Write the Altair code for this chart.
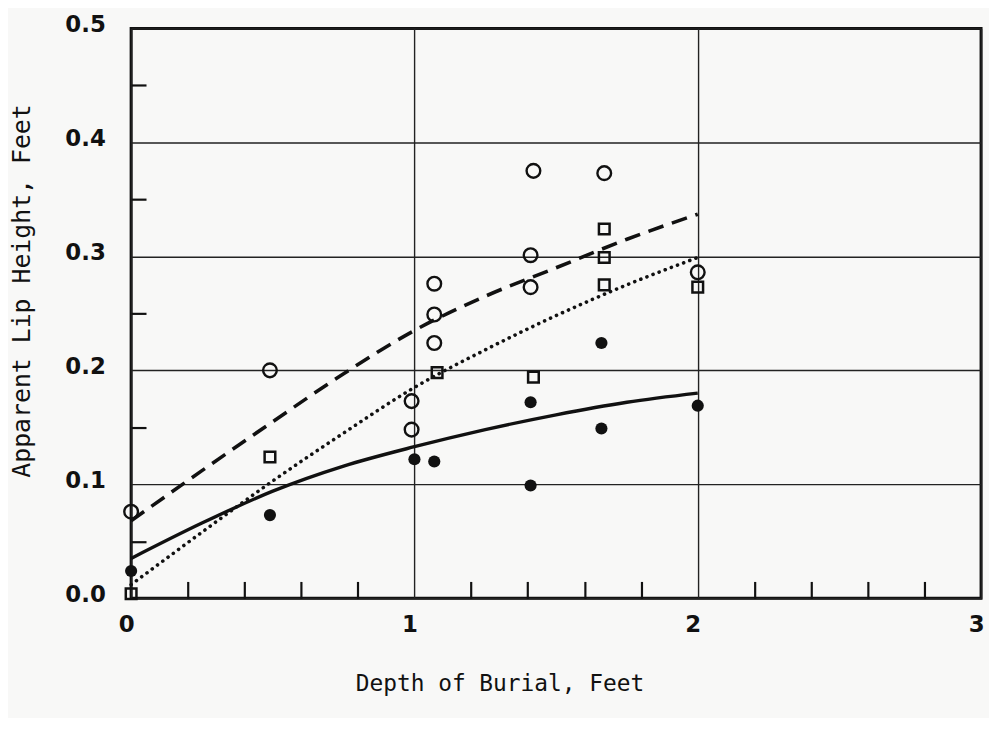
import altair as alt
import pandas as pd

# ---- data ----
open_x = [0.0, 0.49, 0.99, 0.99, 1.07, 1.07, 1.07, 1.41, 1.41, 1.42, 1.67, 2.0]
open_y = [0.076, 0.200, 0.148, 0.173, 0.224, 0.249, 0.276, 0.273, 0.301, 0.375, 0.373, 0.286]

sq_x = [0.0, 0.49, 1.08, 1.42, 1.67, 1.67, 1.67, 2.0]
sq_y = [0.004, 0.124, 0.198, 0.194, 0.324, 0.299, 0.275, 0.273]

fill_x = [0.0, 0.49, 1.0, 1.07, 1.41, 1.41, 1.66, 1.66, 2.0]
fill_y = [0.024, 0.073, 0.122, 0.120, 0.099, 0.172, 0.224, 0.149, 0.169]

curve_x = [0.0, 0.25, 0.5, 0.75, 1.0, 1.25, 1.5, 1.75, 2.0]
dashed_y = [0.068, 0.112, 0.155, 0.197, 0.235, 0.265, 0.290, 0.315, 0.337]
dotted_y = [0.012, 0.058, 0.103, 0.145, 0.185, 0.218, 0.248, 0.275, 0.299]
solid_y = [0.035, 0.066, 0.094, 0.116, 0.133, 0.148, 0.161, 0.172, 0.180]

x_label_values = [0, 1, 2, 3]
y_label_values = [0.0, 0.1, 0.2, 0.3, 0.4, 0.5]
x_minor_values = [0.2, 0.4, 0.6, 0.8, 1.2, 1.4, 1.6, 1.8, 2.2, 2.4, 2.6, 2.8]
y_minor_values = [0.05, 0.15, 0.25, 0.35, 0.45]

df_open = pd.DataFrame({"depth": open_x, "lip": open_y})
df_sq = pd.DataFrame({"depth": sq_x, "lip": sq_y})
df_fill = pd.DataFrame({"depth": fill_x, "lip": fill_y})
df_dash = pd.DataFrame({"depth": curve_x, "lip": dashed_y})
df_dot = pd.DataFrame({"depth": curve_x, "lip": dotted_y})
df_solid = pd.DataFrame({"depth": curve_x, "lip": solid_y})

INK = "#111111"
xs = alt.Scale(domain=[0, 3], nice=False, zero=False)
ys = alt.Scale(domain=[0, 0.5], nice=False)

label_style = dict(labelFont="DejaVu Sans", labelFontSize=23, labelFontWeight="bold",
                   labelColor=INK)
title_style = dict(titleFont="DejaVu Sans Mono", titleFontSize=23, titleFontWeight="normal",
                   titleColor=INK, titleAlign="center", titleBaseline="middle")

x_main = alt.Axis(values=x_label_values, format="d", grid=True, gridColor="#222222",
                  gridWidth=1.4, tickSize=0, domain=False, labelPadding=15, labelOffset=-5,
                  labelFlush=False,
                  title="Depth of Burial, Feet", titleX=371, titleY=86,
                  **label_style, **title_style)
y_main = alt.Axis(values=y_label_values, format=".1f", grid=True, gridColor="#222222",
                  gridWidth=1.4, tickSize=0, domain=False, labelPadding=26, labelOffset=-4,
                  labelFlush=False,
                  title="Apparent Lip Height, Feet", titleX=-110, titleY=264, titleAngle=270,
                  **label_style, **{**title_style, "titleFontSize": 25})

x_minor = alt.Axis(values=x_minor_values, orient="bottom", tickSize=17, offset=-17,
                   tickWidth=2.2, tickColor=INK, labels=False, domain=False, grid=False,
                   title=None)
y_minor = alt.Axis(values=y_minor_values, orient="left", tickSize=15, offset=-15,
                   tickWidth=2.2, tickColor=INK, labels=False, domain=False, grid=False,
                   title=None)

solid = alt.Chart(df_solid).mark_line(color=INK, strokeWidth=3.4, interpolate="monotone").encode(
    x=alt.X("depth:Q", scale=xs, axis=x_main),
    y=alt.Y("lip:Q", scale=ys, axis=y_main),
)
dashed = alt.Chart(df_dash).mark_line(color=INK, strokeWidth=3.6, strokeDash=[16, 9],
                                      interpolate="monotone").encode(
    x=alt.X("depth:Q", scale=xs, axis=None),
    y=alt.Y("lip:Q", scale=ys, axis=None),
)
dotted = alt.Chart(df_dot).mark_line(color=INK, strokeWidth=3.6, strokeDash=[0.1, 6.5],
                                     strokeCap="round", interpolate="monotone").encode(
    x=alt.X("depth:Q", scale=xs, axis=None),
    y=alt.Y("lip:Q", scale=ys, axis=None),
)
opens = alt.Chart(df_open).mark_point(shape="circle", filled=False, size=190, strokeWidth=2.4,
                                      color=INK, opacity=1).encode(
    x=alt.X("depth:Q", scale=xs, axis=None),
    y=alt.Y("lip:Q", scale=ys, axis=None),
)
squares = alt.Chart(df_sq).mark_point(shape="square", filled=False, size=115, strokeWidth=2.5,
                                      color=INK, opacity=1).encode(
    x=alt.X("depth:Q", scale=xs, axis=None),
    y=alt.Y("lip:Q", scale=ys, axis=None),
)
filled = alt.Chart(df_fill).mark_point(shape="circle", filled=True, size=150,
                                       color=INK, opacity=1).encode(
    x=alt.X("depth:Q", scale=xs, axis=x_minor),
    y=alt.Y("lip:Q", scale=ys, axis=y_minor),
)

chart = alt.layer(solid, dashed, dotted, opens, squares, filled).resolve_axis(
    x="independent", y="independent"
).properties(
    width=856, height=574,
    padding={"left": 124, "top": 18, "right": 8, "bottom": 118},
    autosize=alt.AutoSizeParams(type="none"),
    background="#f8f8f7",
).configure_view(stroke=INK, strokeWidth=3)

chart.save("out.html", embed_options={"renderer": "svg", "actions": False})
